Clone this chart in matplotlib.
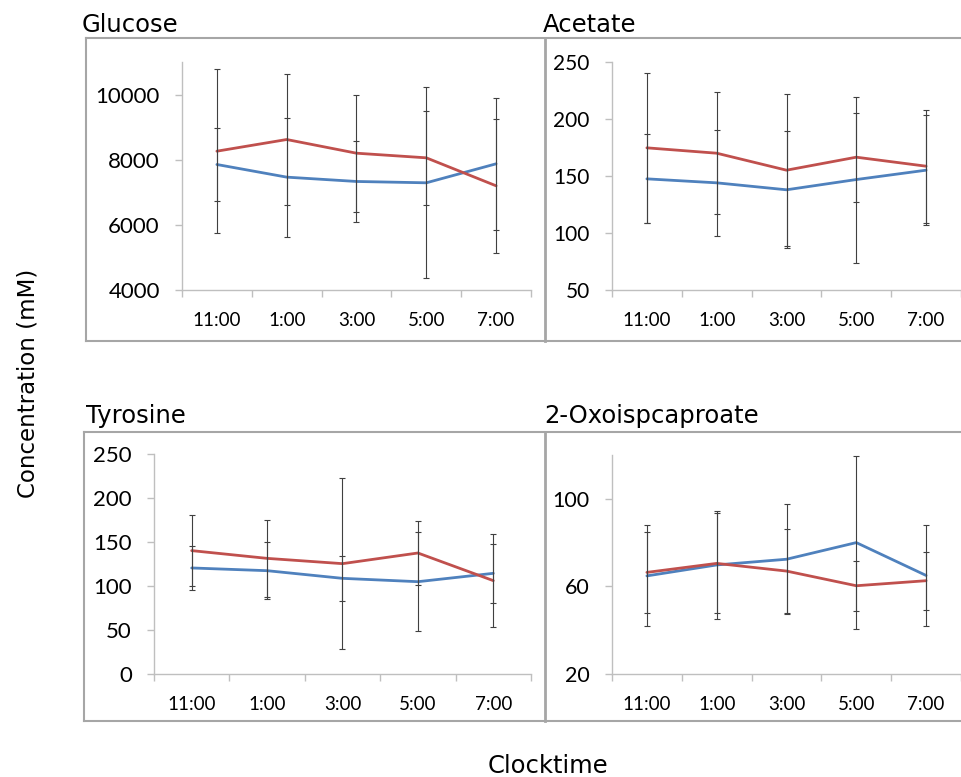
import matplotlib
matplotlib.use("Agg")
import matplotlib.pyplot as plt
from matplotlib.lines import Line2D
import numpy as np

W, H = 962, 777
times = ["11:00", "1:00", "3:00", "5:00", "7:00"]

glucose_red = [8262, 8620, 8200, 8058, 7199]
glucose_red_err = [2520, 2010, 1800, 1440, 2060]
glucose_blue = [7853, 7465, 7332, 7291, 7874]
glucose_blue_err = [1130, 1830, 1240, 2930, 2020]

acetate_red = [174.7, 170.0, 155.1, 166.5, 158.6]
acetate_red_err = [65.7, 53.4, 66.6, 39.1, 49.7]
acetate_blue = [147.5, 144.0, 137.9, 146.9, 155.1]
acetate_blue_err = [39.0, 46.4, 51.4, 72.8, 48.2]

tyrosine_red = [140.2, 131.4, 125.4, 137.5, 106.1]
tyrosine_red_err = [40.1, 44.0, 97.3, 36.4, 52.6]
tyrosine_blue = [120.5, 117.4, 108.7, 104.9, 114.4]
tyrosine_blue_err = [25.3, 32.2, 25.4, 56.5, 33.7]

oxo_red = [66.4, 70.5, 67.0, 60.3, 62.6]
oxo_red_err = [18.4, 22.8, 19.2, 11.5, 13.3]
oxo_blue = [64.8, 69.8, 72.4, 80.0, 65.0]
oxo_blue_err = [23.1, 24.7, 25.2, 39.4, 22.9]

RED = "#C0504D"
BLUE = "#4F81BD"
AXC = "#BFBFBF"
BORDER = "#A6A6A6"

fig = plt.figure(figsize=(W / 100, H / 100), dpi=100)


def fx(x):
    return x / W


def fy(y):
    return 1 - y / H


def hline(x0, x1, y, lw=1.5):
    fig.add_artist(Line2D([fx(x0), fx(x1)], [fy(y), fy(y)], color=BORDER, lw=lw))


def vline(x, y0, y1, lw=1.5):
    fig.add_artist(Line2D([fx(x), fx(x)], [fy(y0), fy(y1)], color=BORDER, lw=lw))


# panel boxes
hline(86, 962, 38)
hline(86, 962, 341)
vline(86, 38, 341)
vline(545, 38, 341, lw=2)
hline(84, 962, 432)
hline(84, 962, 721)
vline(84, 432, 721)
vline(545, 432, 721, lw=2)

panels = [
    ("Glucose", (82, 32), (182, 62, 531, 290), (4000, 11000), [4000, 6000, 8000, 10000], 16,
     glucose_red, glucose_red_err, glucose_blue, glucose_blue_err),
    ("Acetate", (543, 32), (612, 62, 961, 290), (50, 250), [50, 100, 150, 200, 250], 15,
     acetate_red, acetate_red_err, acetate_blue, acetate_blue_err),
    ("Tyrosine", (86, 423), (154, 454, 531, 674), (0, 250), [0, 50, 100, 150, 200, 250], 16,
     tyrosine_red, tyrosine_red_err, tyrosine_blue, tyrosine_blue_err),
    ("2-Oxoispcaproate", (544, 423), (612, 455, 961, 674), (20, 120), [20, 60, 100], 15.5,
     oxo_red, oxo_red_err, oxo_blue, oxo_blue_err),
]

x = np.arange(len(times))
for title, (tx, ty), (l, t, r, b), ylim, yticks, yfs, rv, re, bv, be in panels:
    ax = fig.add_axes([fx(l), fy(b), (r - l) / W, (b - t) / H])
    ax.plot(x, bv, color=BLUE, lw=2, zorder=2, solid_capstyle="round")
    ax.plot(x, rv, color=RED, lw=2, zorder=2, solid_capstyle="round")
    ax.errorbar(x, rv, yerr=re, fmt="none", ecolor="#404040", elinewidth=0.8,
                capsize=2.5, capthick=0.8, zorder=3)
    ax.errorbar(x, bv, yerr=be, fmt="none", ecolor="#404040", elinewidth=0.8,
                capsize=2.5, capthick=0.8, zorder=3)
    ax.set_xlim(-0.5, len(times) - 0.5)
    ax.set_ylim(*ylim)
    ax.set_yticks(yticks)
    ax.set_xticks(np.arange(-0.5, len(times)), labels=[""] * (len(times) + 1))
    ax.set_xticks(x, labels=times, minor=True)
    for s in ["top", "right"]:
        ax.spines[s].set_visible(False)
    for s in ["left", "bottom"]:
        ax.spines[s].set_color(AXC)
        ax.spines[s].set_linewidth(1)
    ax.tick_params(axis="both", which="major", direction="out", length=5, color=AXC, width=1)
    ax.tick_params(axis="x", which="minor", length=0, pad=16, labelsize=13.5)
    ax.tick_params(axis="y", which="major", pad=11, labelsize=yfs)
    for lab in ax.get_xticklabels(minor=True) + ax.get_yticklabels():
        lab.set_family(["Lato", "DejaVu Sans"])
    ax.set_facecolor("none")
    fig.text(fx(tx), fy(ty), title, fontsize=17.5, family="DejaVu Sans", ha="left", va="baseline")

fig.text(fx(28), fy(383), "Concentration (mM)", fontsize=16.5, family="DejaVu Sans",
         rotation=90, ha="center", va="center")
fig.text(fx(548), fy(773), "Clocktime", fontsize=17.5, family="DejaVu Sans",
         ha="center", va="baseline")

fig.savefig("out.png", dpi=100)
